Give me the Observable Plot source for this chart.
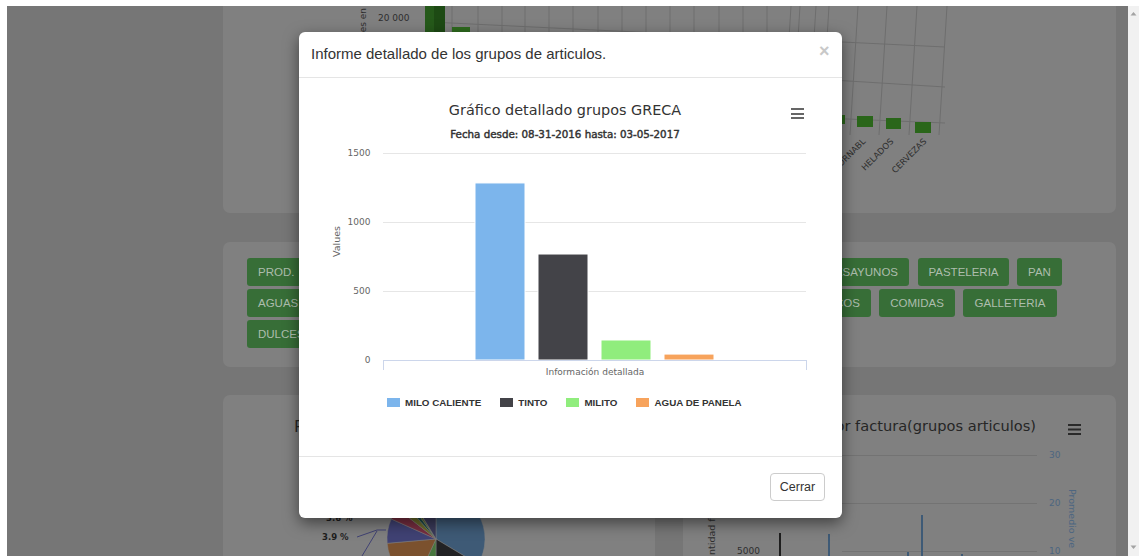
<!DOCTYPE html>
<html>
<head>
<meta charset="utf-8">
<script src="https://cdn.jsdelivr.net/npm/d3@7"></script>
<script src="https://cdn.jsdelivr.net/npm/@observablehq/plot@0.6"></script>
<style>
html,body{margin:0;padding:0;width:1139px;height:556px;overflow:hidden;background:#fff;font-family:"Liberation Sans",Arial,sans-serif;}
.a{position:absolute;}
#bg{left:7px;top:6px;width:1121px;height:550px;background:#767676;}
.panel{position:absolute;background:#808080;border-radius:7px;}
.btn{position:absolute;height:28px;line-height:28px;background:#376e37;color:#adbdad;border-radius:3px;font-size:11.5px;box-sizing:border-box;overflow:hidden;white-space:nowrap;padding:0 11px;}
.bl{text-align:left;}
.br{text-align:right;}
.bc{text-align:center;padding:0;}
#scroll{left:1128px;top:6px;width:11px;height:550px;background:#f1f1f1;}
#modal{left:299px;top:32px;width:543px;height:486px;background:#fff;border-radius:6px;box-shadow:0 5px 15px rgba(0,0,0,.5);}
.hc{font-family:"DejaVu Sans",sans-serif;}
.lgd-swatches,.lgd-swatches-wrap{min-height:0 !important;margin:0 !important;font-family:"Liberation Sans",Arial,sans-serif !important;font-size:9.8px !important;font-weight:bold !important;color:#333 !important;}
.lgd-swatch{margin-right:19px !important;}
.lgd-swatch > svg{margin-right:5px !important;}
</style>
</head>
<body>
<script>
// ---------------- chart data ----------------
const chartTitle = "Gráfico detallado grupos GRECA";
const chartSubtitle = "Fecha desde: 08-31-2016 hasta: 03-05-2017";
const categoryLabel = "Información detallada";
const yAxisTitle = "Values";
const seriesNames = ["MILO CALIENTE", "TINTO", "MILITO", "AGUA DE PANELA"];
const seriesValues = [1283, 768, 145, 43];
const seriesColors = ["#7cb5ec", "#434348", "#90ed7d", "#f7a35c"];
const yTicks = [0, 500, 1000, 1500];

// ---------------- background page text ----------------
const modalTitle = "Informe detallado de los grupos de articulos.";
const closeLabel = "Cerrar";
const buttonRows = [
  ["PROD.\u00a0\u00a0TERMINADOS", "DESAYUNOS", "PASTELERIA", "PAN"],
  ["AGUAS", "REFRESCOS", "COMIDAS", "GALLETERIA"],
  ["DULCES"]
];
const bgPieShares = [0.336, 0.164, 0.069, 0.167, 0.081, 0.039, 0.028, 0.017, 0.012, 0.087];
const bgPieColors = ["#3e5a76", "#222224", "#48763e", "#7b512e", "#404274", "#782e40", "#6a692a", "#1a4a44", "#5a6a2a", "#3a3a5a"];
const bg3dLabels = ["GAS. NO RETORNABL", "HELADOS", "CERVEZAS"];

const body = document.body;
function el(tag, cls, css, text) {
  const e = document.createElement(tag);
  e.className = cls;
  if (css) e.style.cssText = css;
  if (text != null) e.textContent = text;
  body.appendChild(e);
  return e;
}

// page background (dimmed)
el("div", "a", "", null).id = "bg";
el("div", "a", "", null).id = "scroll";
const sc = document.getElementById("scroll");
sc.innerHTML = '<svg width="11" height="550" style="display:block"><path d="M2.5,9.5 L5.5,6 L8.5,9.5Z" fill="#a3a3a3"/><path d="M2.5,539.5 L5.5,543 L8.5,539.5Z" fill="#a3a3a3"/></svg>';
el("div", "panel", "left:223px;top:6px;width:893px;height:207px;border-top-left-radius:0;border-top-right-radius:0;");
el("div", "panel", "left:223px;top:242px;width:893px;height:125px;");
el("div", "panel", "left:223px;top:395px;width:432px;height:170px;");
el("div", "panel", "left:683px;top:395px;width:433px;height:170px;");

// buttons
const btnPos = [
  [[247, 140, "bl"], [814, 95, "br"], [918, 91, "bc"], [1017, 45, "bc"]],
  [[247, 90, "bl"], [773, 98, "br"], [879, 76, "bc"], [963, 94, "bc"]],
  [[247, 80, "bl"]]
];
const btnTops = [258, 289, 320];
buttonRows.forEach((row, r) => row.forEach((t, i) => {
  const p = btnPos[r][i];
  el("div", "btn " + p[2], `left:${p[0]}px;top:${btnTops[r]}px;width:${p[1]}px;`, t);
}));

// decorative background chart fragments
const deco = d3.select(body).append("svg").attr("class", "a").attr("width", 1139).attr("height", 556)
  .style("left", "0px").style("top", "0px");
const dg = deco.append("g").attr("stroke", "#6e6e6e").attr("fill", "none");
[452,478,502,525,549,573,598,622,646,670,694,719,743,767,791,816,800,829,858,887,917,947].forEach((x) => {
  dg.append("line").attr("x1", x).attr("y1", 6).attr("x2", x - (x > 790 ? 8 : 0)).attr("y2", 135);
});
dg.append("line").attr("x1", 430).attr("y1", 22).attr("x2", 945).attr("y2", 47);
dg.append("line").attr("x1", 430).attr("y1", 55).attr("x2", 945).attr("y2", 87);
dg.append("line").attr("x1", 430).attr("y1", 102).attr("x2", 945).attr("y2", 123);
deco.append("rect").attr("x", 425).attr("y", 6).attr("width", 20).attr("height", 30).attr("fill", "#25591a");
deco.append("rect").attr("x", 434).attr("y", 6).attr("width", 11).attr("height", 30).attr("fill", "#1d4a14");
deco.append("rect").attr("x", 452).attr("y", 27).attr("width", 18).attr("height", 10).attr("fill", "#2e6a1e");
[[838, 115, 7, 9], [857, 116, 16, 11], [886, 118, 15, 11], [915, 122, 16, 11]].forEach(r =>
  deco.append("rect").attr("x", r[0]).attr("y", r[1]).attr("width", r[2]).attr("height", r[3]).attr("fill", "#2a661a"));
deco.append("text").attr("x", 378).attr("y", 21).attr("font-family", "DejaVu Sans").attr("font-size", 9).attr("fill", "#2e2e2e").text("20 000");
deco.append("text").attr("transform", "translate(366,8) rotate(-90)").attr("text-anchor", "end")
  .attr("font-family", "DejaVu Sans").attr("font-size", 9).attr("fill", "#2e2e2e").text("Cantidades en");
[[866, 142], [894, 142], [927, 142]].forEach((p, i) =>
  deco.append("text").attr("transform", `translate(${p[0]},${p[1]}) rotate(-45)`).attr("text-anchor", "end")
    .attr("font-family", "DejaVu Sans").attr("font-size", 8.5).attr("fill", "#2e2e2e").text(bg3dLabels[i]));
// bottom panels
deco.append("text").attr("x", 294).attr("y", 432).attr("font-family", "DejaVu Sans").attr("font-size", 16).attr("fill", "#262626").text("Participación por grupos");
deco.append("text").attr("x", 1036).attr("y", 431).attr("text-anchor", "end").attr("font-family", "DejaVu Sans").attr("font-size", 14.6).attr("fill", "#262626").text("Promedio de venta por factura(grupos articulos)");
[424, 428.5, 433].forEach(y => deco.append("rect").attr("x", 1068).attr("y", y).attr("width", 13).attr("height", 2).attr("fill", "#2a2a2a"));
[[455, "30"], [503, "20"], [551, "10"]].forEach(t => {
  deco.append("line").attr("x1", 842).attr("x2", 1037).attr("y1", t[0] + 0.5).attr("y2", t[0] + 0.5).attr("stroke", "#737373");
  deco.append("text").attr("x", 1049).attr("y", t[0] + 3).attr("font-family", "DejaVu Sans").attr("font-size", 9).attr("fill", "#4d6680").text(t[1]);
});
deco.append("text").attr("x", 737).attr("y", 554).attr("font-family", "DejaVu Sans").attr("font-size", 9).attr("fill", "#2e2e2e").text("5000");
deco.append("text").attr("transform", "translate(1069,489) rotate(90)").attr("font-family", "DejaVu Sans").attr("font-size", 9.5).attr("fill", "#4d6680").text("Promedio ve");
deco.append("text").attr("transform", "translate(715,555) rotate(-90)").attr("font-family", "DejaVu Sans").attr("font-size", 9.5).attr("fill", "#2e2e2e").text("ntidad fact");
[[780, 533, "#1e1e1e"], [829, 534, "#3e5a76"], [922, 515, "#3e5a76"], [908, 552, "#3e5a76"], [962, 554, "#3e5a76"]].forEach(s =>
  deco.append("line").attr("x1", s[0]).attr("x2", s[0]).attr("y1", s[1]).attr("y2", 556).attr("stroke", s[2]).attr("stroke-width", 2));
const pie = d3.pie().sort(null).value(d => d)(bgPieShares);
const arc = d3.arc().innerRadius(0).outerRadius(49);
deco.append("g").attr("transform", "translate(436,539)").selectAll("path").data(pie).join("path")
  .attr("d", arc).attr("fill", (d, i) => bgPieColors[i]).attr("stroke", "#808080").attr("stroke-width", 0.5);
deco.append("polyline").attr("points", "357,537 377,530 386,530").attr("fill", "none").attr("stroke", "#404274");
deco.append("polyline").attr("points", "377,531 362,556").attr("fill", "none").attr("stroke", "#404274");
deco.append("text").attr("x", 322).attr("y", 540).attr("font-family", "DejaVu Sans").attr("font-weight", "bold").attr("font-size", 8.5).attr("fill", "#1e1e1e").text("3.9 %");
deco.append("text").attr("x", 326).attr("y", 521).attr("font-family", "DejaVu Sans").attr("font-weight", "bold").attr("font-size", 8.5).attr("fill", "#1e1e1e").text("3.6 %");

// ---------------- modal ----------------
el("div", "a", "", null).id = "modal";
el("div", "a", "left:311px;top:45px;font-size:15px;line-height:18px;color:#333;", modalTitle);
el("div", "a", "left:819px;top:41px;font-size:18px;line-height:20px;font-weight:bold;color:#c8c8c8;", "×");
el("div", "a", "left:299px;top:77px;width:543px;height:1px;background:#e5e5e5;");
el("div", "a", "left:299px;top:456px;width:543px;height:1px;background:#e5e5e5;");
el("div", "a", "left:770px;top:473px;width:55px;height:28px;box-sizing:border-box;border:1px solid #ccc;border-radius:4px;text-align:center;line-height:26px;font-size:12.5px;color:#333;", closeLabel);

// chart title / subtitle / menu
el("div", "a hc", "left:365px;top:101px;width:400px;text-align:center;font-size:14.4px;line-height:18px;color:#333;", chartTitle);
el("div", "a hc", "left:365px;top:128px;width:400px;text-align:center;font-size:10.3px;line-height:12px;color:#333;-webkit-text-stroke:0.45px #333;", chartSubtitle);
[108, 112.5, 117].forEach(y => el("div", "a", `left:791px;top:${y}px;width:13px;height:2px;background:#666;`));

// ---------------- the chart ----------------
const rows = seriesNames.map((s, i) => ({serie: s, value: seriesValues[i]}));

const edgeTicks = (index, scales, values, dims) => {
  const g = d3.create("svg:g").attr("stroke", "#ccd6eb");
  const yb = dims.height - dims.marginBottom;
  for (const x of [dims.marginLeft, dims.width - dims.marginRight]) {
    g.append("line").attr("x1", x + 0.5).attr("x2", x + 0.5).attr("y1", yb).attr("y2", yb + 10);
  }
  return g.node();
};

const chart = Plot.plot({
  width: 520,
  height: 240,
  marginLeft: 73,
  marginRight: 24,
  marginTop: 13,
  marginBottom: 20,
  style: {fontFamily: "DejaVu Sans", fontSize: "9px", color: "#666", background: "transparent", overflow: "visible"},
  x: {domain: seriesNames, paddingInner: 0.2, paddingOuter: 1.44, axis: null},
  y: {domain: [0, 1500]},
  color: {domain: seriesNames, range: seriesColors},
  marks: [
    Plot.gridY(yTicks, {stroke: "#e6e6e6", strokeOpacity: 1}),
    Plot.axisY(yTicks, {tickSize: 0, tickPadding: 13, tickFormat: d => String(d), label: null, fill: "#666", fontSize: 9}),
    Plot.barY(rows, {x: "serie", y: "value", fill: "serie", stroke: "#fff", strokeWidth: 1}),
    Plot.ruleY([0], {stroke: "#ccd6eb"}),
    edgeTicks,
    Plot.text([categoryLabel], {text: d => d, frameAnchor: "bottom", dy: 14, fill: "#666", fontSize: 9}),
    Plot.text([yAxisTitle], {text: d => d, frameAnchor: "left", dx: -47, rotate: -90, fill: "#666", fontSize: 9.5})
  ]
});
const holder = el("div", "a", "left:310px;top:140px;width:520px;height:240px;");
holder.appendChild(chart);

// legend
const lg = Plot.legend({
  color: {domain: seriesNames, range: seriesColors},
  legend: "swatches",
  swatchWidth: 13,
  swatchHeight: 9,
  className: "lgd"
});
const lgHolder = el("div", "a", "left:387px;top:396px;height:13px;display:flex;align-items:center;");
lgHolder.appendChild(lg);
</script>
</body>
</html>
